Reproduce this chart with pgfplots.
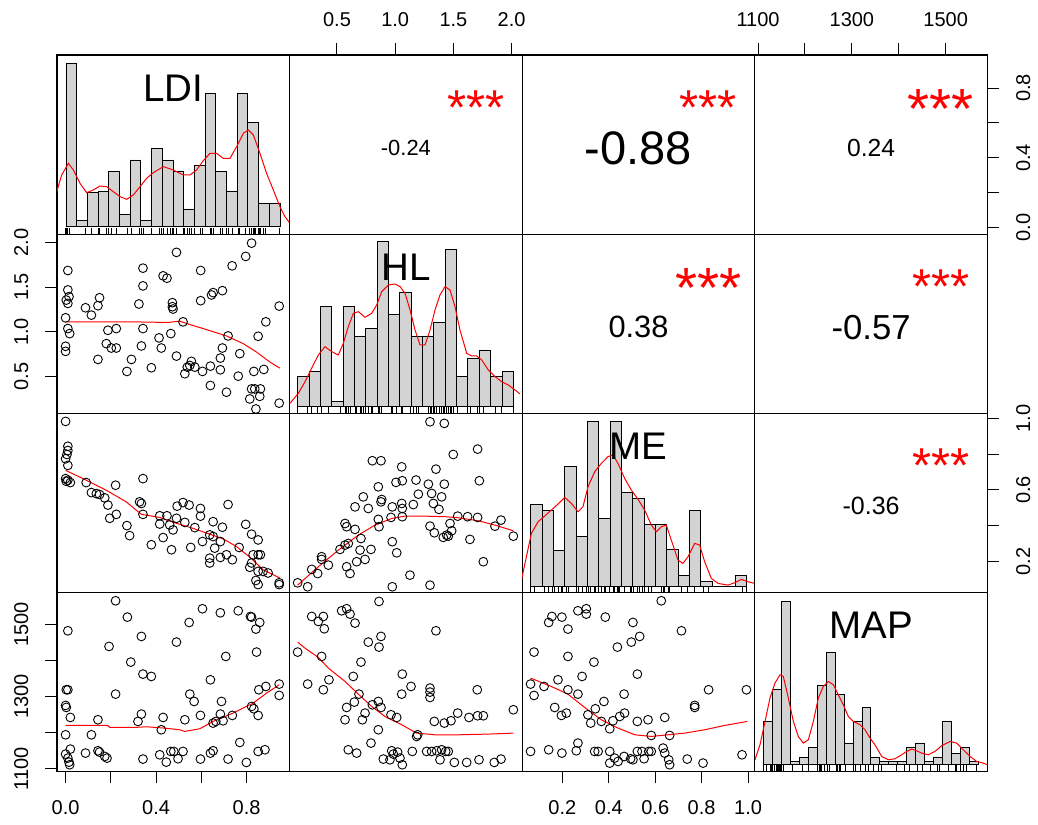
\documentclass[border=0pt]{standalone}
\usepackage{fontspec}
\setmainfont{Liberation Sans}
\usepackage{pgfplots}
\usepackage{pgfplotstable}
\pgfplotsset{compat=1.18}
\definecolor{histgray}{HTML}{D3D3D3}

% ---------- scatter panels ----------
\pgfplotstableread{
ldi hl
0.822 1.990
0.490 1.887
0.796 1.842
0.736 1.737
0.010 1.685
0.342 1.711
0.597 1.685
0.431 1.625
0.448 1.599
0.342 1.513
0.010 1.468
0.693 1.460
0.652 1.438
0.645 1.412
0.015 1.393
0.003 1.355
0.150 1.381
0.010 1.318
0.324 1.311
0.143 1.292
0.088 1.269
0.597 1.348
0.472 1.326
0.472 1.281
0.475 1.255
0.944 1.288
0.000 1.157
0.114 1.187
0.519 1.112
0.885 1.112
0.010 1.037
0.018 0.981
0.187 1.018
0.224 1.037
0.342 1.037
0.465 0.981
0.413 0.933
0.718 0.955
0.851 0.951
0.000 0.839
0.000 0.783
0.180 0.869
0.202 0.820
0.224 0.820
0.335 0.843
0.423 0.820
0.693 0.820
0.143 0.693
0.291 0.693
0.490 0.730
0.684 0.708
0.770 0.757
0.556 0.671
0.549 0.625
0.538 0.607
0.571 0.607
0.271 0.559
0.379 0.600
0.527 0.533
0.605 0.559
0.640 0.618
0.684 0.577
0.763 0.506
0.832 0.559
0.876 0.581
0.640 0.402
0.711 0.327
0.822 0.364
0.836 0.364
0.861 0.364
0.814 0.252
0.858 0.281
0.841 0.140
0.944 0.205
}\tTwoOne

\pgfplotstableread{
ldi me
0.000 0.983
0.010 0.844
0.010 0.820
0.006 0.798
0.000 0.774
0.010 0.737
0.000 0.663
0.010 0.654
0.021 0.641
0.003 0.648
0.091 0.641
0.114 0.585
0.136 0.579
0.150 0.574
0.173 0.555
0.221 0.626
0.342 0.663
0.327 0.533
0.335 0.524
0.187 0.515
0.224 0.463
0.195 0.441
0.271 0.400
0.283 0.344
0.342 0.463
0.416 0.455
0.448 0.455
0.490 0.441
0.416 0.409
0.460 0.404
0.475 0.376
0.493 0.509
0.519 0.529
0.546 0.515
0.596 0.496
0.596 0.453
0.527 0.418
0.571 0.389
0.718 0.518
0.431 0.333
0.379 0.293
0.468 0.265
0.553 0.278
0.605 0.311
0.652 0.422
0.693 0.391
0.637 0.348
0.652 0.339
0.684 0.311
0.659 0.274
0.637 0.218
0.637 0.191
0.684 0.222
0.711 0.237
0.737 0.209
0.767 0.278
0.796 0.407
0.822 0.352
0.851 0.320
0.829 0.237
0.851 0.237
0.861 0.237
0.822 0.191
0.814 0.167
0.851 0.144
0.873 0.144
0.895 0.135
0.841 0.093
0.851 0.070
0.944 0.080
0.944 0.070
}\tThreeOne

\pgfplotstableread{
ldi map
0.221 1565.5
0.273 1520.3
0.010 1482.4
0.335 1466.8
0.192 1439.1
0.490 1451.1
0.605 1543.4
0.684 1532.3
0.763 1537.8
0.817 1522.1
0.822 1520.3
0.858 1505.5
0.546 1505.5
0.841 1487.1
0.844 1423.4
0.708 1411.4
0.288 1395.7
0.342 1362.4
0.379 1356.0
0.640 1346.7
0.003 1319.1
0.010 1319.1
0.221 1307.0
0.549 1307.0
0.568 1286.7
0.689 1286.7
0.000 1275.7
0.003 1270.1
0.021 1242.4
0.143 1236.0
0.335 1251.7
0.320 1231.4
0.431 1242.4
0.527 1236.0
0.596 1248.0
0.684 1251.7
0.737 1248.0
0.822 1272.9
0.832 1266.4
0.851 1248.0
0.854 1319.1
0.885 1328.3
0.944 1334.8
0.944 1303.4
0.423 1208.3
0.652 1226.8
0.664 1231.4
0.696 1233.2
0.000 1194.4
0.114 1194.4
0.000 1140.9
0.010 1129.8
0.015 1118.7
0.018 1111.4
0.021 1154.7
0.088 1143.7
0.143 1150.1
0.150 1146.4
0.173 1134.4
0.183 1129.8
0.342 1127.1
0.416 1139.0
0.445 1118.7
0.465 1148.3
0.478 1148.3
0.497 1128.0
0.519 1148.3
0.596 1127.1
0.640 1143.7
0.652 1150.1
0.718 1127.1
0.770 1173.2
0.799 1117.8
0.851 1148.3
0.881 1152.9
}\tFourOne

\pgfplotstableread{
hl me
1.299 0.981
1.422 0.972
1.708 0.828
1.499 0.798
0.804 0.763
0.878 0.763
1.056 0.729
1.350 0.716
1.723 0.651
1.007 0.642
1.061 0.651
1.179 0.655
1.285 0.632
1.422 0.632
0.855 0.617
0.726 0.561
0.655 0.505
0.769 0.496
0.884 0.546
0.878 0.533
0.975 0.505
1.056 0.524
1.061 0.496
1.156 0.518
1.199 0.576
1.313 0.580
1.399 0.561
1.328 0.524
1.376 0.491
0.855 0.435
0.861 0.394
0.964 0.446
1.061 0.450
0.569 0.412
0.583 0.394
0.655 0.379
0.706 0.328
0.597 0.300
0.569 0.291
0.698 0.263
0.792 0.267
0.741 0.211
0.669 0.198
0.526 0.267
0.368 0.226
0.368 0.211
0.426 0.179
0.283 0.155
0.334 0.132
0.583 0.170
0.612 0.132
0.162 0.080
0.248 0.058
0.975 0.310
1.013 0.248
1.127 0.123
0.975 0.058
1.299 0.067
1.299 0.397
1.336 0.360
1.413 0.334
1.456 0.341
1.485 0.371
1.442 0.347
1.471 0.412
1.537 0.453
1.622 0.450
1.708 0.446
1.857 0.397
1.909 0.431
2.015 0.341
1.642 0.323
1.757 0.198
}\tThreeTwo

\pgfplotstableread{
hl map
0.861 1563.7
0.540 1537.8
0.583 1543.4
0.612 1528.6
0.283 1522.1
0.383 1522.1
0.340 1508.3
0.391 1488.0
0.655 1503.7
1.350 1482.4
0.878 1466.8
0.769 1451.1
0.861 1437.2
0.162 1423.4
0.368 1411.4
0.706 1395.7
1.061 1362.4
0.640 1356.0
0.431 1346.7
0.248 1334.8
0.383 1319.1
1.136 1328.3
1.056 1307.0
1.299 1323.7
1.299 1312.6
1.299 1297.8
1.705 1319.1
0.689 1307.0
0.649 1284.9
0.583 1270.1
0.855 1286.7
0.878 1270.1
0.804 1277.5
0.741 1254.4
0.569 1236.0
0.718 1236.0
0.964 1249.8
1.013 1242.4
2.015 1263.7
1.537 1254.4
1.479 1233.2
1.422 1226.8
1.336 1231.4
1.634 1242.4
1.708 1247.1
1.757 1247.1
0.855 1208.3
1.193 1194.4
1.184 1189.8
0.792 1171.4
0.597 1152.9
0.669 1143.7
0.898 1127.1
0.970 1150.1
0.984 1140.9
1.021 1146.4
1.041 1129.8
1.061 1111.4
0.955 1125.2
1.147 1148.3
1.270 1148.3
1.313 1148.3
1.356 1150.1
1.399 1152.9
1.434 1148.3
1.456 1148.3
1.385 1125.2
1.508 1117.8
1.614 1117.8
1.720 1125.2
1.851 1117.8
1.909 1127.1
}\tFourTwo

\pgfplotstableread{
me map
0.626 1565.5
0.267 1537.8
0.303 1543.4
0.303 1528.6
0.155 1522.1
0.198 1520.3
0.141 1505.5
0.385 1520.3
0.224 1487.1
0.504 1505.5
0.713 1482.4
0.533 1466.8
0.497 1451.1
0.437 1437.2
0.078 1423.4
0.224 1411.4
0.336 1395.7
0.285 1356.0
0.523 1362.4
0.181 1346.7
0.063 1334.8
0.121 1328.3
0.224 1319.1
0.267 1307.0
0.078 1303.4
0.830 1319.1
0.993 1319.1
0.466 1307.0
0.379 1286.7
0.342 1266.4
0.167 1270.1
0.196 1248.0
0.217 1254.4
0.310 1249.8
0.322 1226.8
0.368 1231.4
0.404 1211.0
0.418 1233.2
0.447 1245.2
0.468 1254.4
0.523 1231.4
0.569 1236.0
0.641 1242.4
0.770 1275.7
0.770 1270.1
0.583 1192.6
0.662 1192.6
0.267 1171.4
0.063 1148.3
0.141 1152.9
0.198 1143.7
0.260 1150.1
0.339 1148.3
0.354 1148.3
0.404 1148.3
0.425 1129.8
0.404 1116.0
0.440 1120.6
0.466 1134.4
0.494 1128.0
0.504 1125.2
0.523 1148.3
0.543 1148.3
0.552 1128.0
0.572 1148.3
0.583 1148.3
0.634 1157.5
0.641 1143.7
0.658 1125.2
0.662 1111.4
0.738 1127.1
0.806 1116.0
0.974 1139.0
}\tFourThree

% ---------- smoothing lines ----------
\pgfplotstableread{
0.000 1.112
0.298 1.112
0.453 1.105
0.504 1.120
0.549 1.082
0.608 1.037
0.711 0.955
0.785 0.869
0.844 0.775
0.903 0.663
0.947 0.596
}\sTwoOne
\pgfplotstableread{
0.000 0.709
0.077 0.663
0.180 0.598
0.268 0.533
0.335 0.463
0.416 0.446
0.490 0.413
0.563 0.385
0.637 0.352
0.696 0.326
0.755 0.283
0.814 0.224
0.873 0.153
0.947 0.107
}\sThreeOne
\pgfplotstableread{
0.000 1220.3
0.187 1220.3
0.195 1214.7
0.305 1214.7
0.357 1216.6
0.438 1212.9
0.504 1208.3
0.527 1203.7
0.593 1211.1
0.652 1231.4
0.740 1254.4
0.829 1282.1
0.888 1309.8
0.944 1332.9
}\sFourOne
\pgfplotstableread{
0.162 0.067
0.340 0.170
0.512 0.263
0.683 0.347
0.827 0.403
0.970 0.440
1.084 0.453
1.256 0.453
1.428 0.450
1.542 0.444
1.714 0.427
1.857 0.403
2.015 0.371
}\sThreeTwo
\pgfplotstableread{
0.162 1451.1
0.225 1434.4
0.340 1408.6
0.426 1379.0
0.569 1342.1
0.683 1307.0
0.798 1272.9
0.912 1245.2
1.056 1222.1
1.184 1199.0
1.342 1194.4
1.542 1194.4
1.800 1196.3
2.015 1199.0
}\sFourTwo
\pgfplotstableread{
0.063 1351.4
0.152 1328.3
0.224 1307.0
0.296 1270.1
0.368 1236.0
0.440 1212.9
0.512 1194.4
0.583 1189.8
0.655 1194.4
0.727 1199.0
0.813 1208.3
0.899 1220.3
0.997 1231.4
}\sFourThree

% ---------- histograms (bin centre, bar height) ----------
\pgfplotstableread{
0.5 490
1.5 18
2.5 103
3.5 105
4.5 165
5.5 36
6.5 200
7.5 18
8.5 235
9.5 200
10.5 165
11.5 53
12.5 183
13.5 400
14.5 165
15.5 106
16.5 400
17.5 313
18.5 71
19.5 71
}\hLDI
\pgfplotstableread{
0.5 90
1.5 105
2.5 300
3.5 15
4.5 300
5.5 212
6.5 235
7.5 495
8.5 277
9.5 343
10.5 210
11.5 210
12.5 252
13.5 472
14.5 90
15.5 145
16.5 170
17.5 90
18.5 105
}\hHL
\pgfplotstableread{
0.5 247
1.5 230
2.5 110
3.5 360
4.5 152
5.5 495
6.5 205
7.5 495
8.5 282
9.5 265
10.5 188
11.5 188
12.5 112
13.5 35
14.5 230
15.5 15
16.5 0
17.5 0
18.5 35
}\hME
\pgfplotstableread{
0.5 130
1.5 225
2.5 490
3.5 10
4.5 22
5.5 52
6.5 237
7.5 337
8.5 212
9.5 65
10.5 130
11.5 172
12.5 22
13.5 10
14.5 10
15.5 10
16.5 52
17.5 65
18.5 10
19.5 22
20.5 130
21.5 35
22.5 52
23.5 10
}\hMAP

% ---------- density curves ----------
\pgfplotstableread{
-0.87 105
-0.40 155
0.22 190
0.69 170
1.31 130
1.93 102
2.55 110
3.18 122
3.80 120
4.42 105
5.05 90
5.67 82
6.29 95
6.92 120
7.54 145
8.16 162
9.10 180
10.03 170
10.97 155
11.59 155
12.21 170
12.83 198
13.46 220
14.08 220
14.70 205
15.33 205
15.95 240
16.57 280
17.04 290
17.51 275
18.13 220
18.75 160
19.38 110
20.00 60
20.47 30
20.93 10
}\dLDI
\pgfplotstableread{
-0.68 10
0.06 40
0.65 75
1.23 115
1.82 155
2.41 180
3.00 165
3.58 155
4.02 190
4.46 240
4.90 280
5.35 285
5.93 268
6.52 280
6.96 305
7.40 345
7.99 365
8.58 368
9.02 360
9.46 340
9.90 290
10.34 230
10.78 185
11.22 185
11.66 230
12.10 290
12.54 335
12.98 360
13.42 350
13.86 300
14.30 230
14.89 160
15.33 152
15.77 152
16.21 140
16.80 110
17.39 90
17.97 75
18.56 65
19.15 50
19.59 38
}\dHL
\pgfplotstableread{
-0.82 20
-0.38 90
0.06 160
0.65 195
1.23 212
1.82 230
2.41 248
3.00 268
3.58 250
4.17 225
4.61 240
5.05 300
5.64 345
6.23 370
6.81 390
7.25 395
7.69 370
8.28 325
8.87 290
9.46 262
10.04 230
10.63 185
11.07 165
11.51 180
11.95 185
12.39 140
12.98 80
13.42 70
13.86 90
14.45 130
14.89 125
15.33 75
15.92 25
16.51 10
17.39 5
17.97 12
18.56 22
19.15 15
19.74 10
}\dME
\pgfplotstableread{
-0.93 15
-0.37 60
0.19 130
0.74 200
1.30 245
1.86 270
2.23 265
2.79 200
3.35 130
3.90 85
4.46 65
5.02 75
5.58 130
6.13 200
6.69 235
7.25 250
7.81 240
8.36 210
8.92 180
9.48 145
10.04 130
10.78 120
11.34 105
11.90 80
12.45 60
13.20 25
13.94 15
14.68 18
15.43 30
15.99 40
16.54 47
17.10 42
17.66 35
18.40 30
19.14 40
19.89 57
20.82 70
21.56 65
22.30 45
23.05 25
23.79 10
24.54 5
24.98 0
}\dMAP

\pgfplotsset{
  panel/.style={
    scale only axis, width=232.6pt, height=179.1pt, anchor=south west,
    axis line style={black, line width=1.1pt},
    xtick=\empty, ytick=\empty,
    tick align=outside, major tick length=12pt,
    every tick/.style={black, line width=1pt},
    tick label style={font=\fontsize{20}{22}\selectfont, inner sep=16.5pt},
    clip=true,
  },
  rug/.style={panel, axis lines=none, ymin=0, ymax=179.1},
  pts/.style={only marks, mark=o, mark size=4.4pt, mark options={black, line width=0.9pt}},
  smooth line/.style={red, line width=1pt, no marks},
  bars/.style={ybar, bar width=1, fill=histgray, draw=black, line width=0.9pt},
}
\tikzset{
  varname/.style={font=\fontsize{38.5}{40}\selectfont},
  stars/.style={text=red, inner sep=0pt},
}

\begin{document}
\begin{tikzpicture}
\path[use as bounding box] (0pt,0pt) rectangle (1038pt,824pt);

% ===== row 1 =====
\begin{axis}[panel, at={(57pt,589.9pt)}, xmin=-0.84, xmax=20.90, ymin=-22.3, ymax=515]
  \addplot[bars] table {\hLDI};
  \addplot[smooth line] table {\dLDI};
  \node[varname] at (rel axis cs:0.5,0.815) {LDI};
\end{axis}
\begin{axis}[rug, at={(57pt,589.9pt)}, xmin=-0.038, xmax=0.990]
  \addplot[ycomb, no marks, line width=0.8pt] table[x=ldi, y expr=6] {\tTwoOne};
\end{axis}

\begin{axis}[panel, at={(289.6pt,589.9pt)}, xmin=0.093, xmax=2.091, ymin=0, ymax=1,
  xtick pos=top, xtick={0.5,1,1.5,2}, xticklabels={0.5,1.0,1.5,2.0}]
  \node[font=\fontsize{21.9}{24}\selectfont, yshift=-3.5pt] at (rel axis cs:0.5,0.5) {-0.24};
  \node[stars, font=\fontsize{49}{50}\selectfont, yshift=-17pt] at (rel axis cs:0.8,0.8) {***};
\end{axis}

\begin{axis}[panel, at={(522.2pt,589.9pt)}, xmin=0, xmax=1, ymin=0, ymax=1]
  \node[font=\fontsize{47}{50}\selectfont, yshift=-3.5pt] at (rel axis cs:0.5,0.5) {-0.88};
  \node[stars, font=\fontsize{49}{50}\selectfont, yshift=-17pt] at (rel axis cs:0.8,0.8) {***};
\end{axis}

\begin{axis}[panel, at={(754.8pt,589.9pt)}, xmin=1093, xmax=1589, ymin=-0.038, ymax=0.990,
  xtick pos=top, xtick={1100,1200,1300,1400,1500}, xticklabels={1100,,1300,,1500},
  ytick pos=right, ytick={0,0.2,0.4,0.6,0.8}, yticklabels={0.0,,0.4,,0.8},
  yticklabel style={rotate=90, anchor=north}]
  \node[font=\fontsize{24.7}{26}\selectfont, yshift=-3.5pt] at (rel axis cs:0.5,0.5) {0.24};
  \node[stars, font=\fontsize{56.6}{58}\selectfont, yshift=-18pt] at (rel axis cs:0.8,0.8) {***};
\end{axis}

% ===== row 2 =====
\begin{axis}[panel, at={(57pt,410.8pt)}, xmin=-0.038, xmax=0.990, ymin=0.093, ymax=2.091,
  ytick pos=left, ytick={0.5,1,1.5,2}, yticklabels={0.5,1.0,1.5,2.0},
  yticklabel style={rotate=90, anchor=south}]
  \addplot[pts] table[x=ldi, y=hl] {\tTwoOne};
  \addplot[smooth line] table {\sTwoOne};
\end{axis}

\begin{axis}[panel, at={(289.6pt,410.8pt)}, xmin=-0.71, xmax=19.78, ymin=-19.6, ymax=517.7]
  \addplot[bars] table {\hHL};
  \addplot[smooth line] table {\dHL};
  \node[varname] at (rel axis cs:0.5,0.815) {HL};
\end{axis}
\begin{axis}[rug, at={(289.6pt,410.8pt)}, xmin=0.093, xmax=2.091]
  \addplot[ycomb, no marks, line width=0.8pt] table[x=hl, y expr=6] {\tThreeTwo};
\end{axis}

\begin{axis}[panel, at={(522.2pt,410.8pt)}, xmin=0, xmax=1, ymin=0, ymax=1]
  \node[font=\fontsize{30.8}{32}\selectfont, yshift=-3.5pt] at (rel axis cs:0.5,0.5) {0.38};
  \node[stars, font=\fontsize{56.6}{58}\selectfont, yshift=-18pt] at (rel axis cs:0.8,0.8) {***};
\end{axis}

\begin{axis}[panel, at={(754.8pt,410.8pt)}, xmin=0, xmax=1, ymin=0, ymax=1]
  \node[font=\fontsize{34.7}{36}\selectfont, yshift=-3.5pt] at (rel axis cs:0.5,0.5) {-0.57};
  \node[stars, font=\fontsize{49}{50}\selectfont, yshift=-17pt] at (rel axis cs:0.8,0.8) {***};
\end{axis}

% ===== row 3 =====
\begin{axis}[panel, at={(57pt,231.7pt)}, xmin=-0.038, xmax=0.990, ymin=0.027, ymax=1.029]
  \addplot[pts] table[x=ldi, y=me] {\tThreeOne};
  \addplot[smooth line] table {\sThreeOne};
\end{axis}

\begin{axis}[panel, at={(289.6pt,231.7pt)}, xmin=0.093, xmax=2.091, ymin=0.027, ymax=1.029]
  \addplot[pts] table[x=hl, y=me] {\tThreeTwo};
  \addplot[smooth line] table {\sThreeTwo};
\end{axis}

\begin{axis}[panel, at={(522.2pt,231.7pt)}, xmin=-0.75, xmax=19.75, ymin=-16.6, ymax=520.4]
  \addplot[bars] table {\hME};
  \addplot[smooth line] table {\dME};
  \node[varname] at (rel axis cs:0.5,0.815) {ME};
\end{axis}
\begin{axis}[rug, at={(522.2pt,231.7pt)}, xmin=0.027, xmax=1.029]
  \addplot[ycomb, no marks, line width=0.8pt] table[x=me, y expr=6] {\tFourThree};
\end{axis}

\begin{axis}[panel, at={(754.8pt,231.7pt)}, xmin=0, xmax=1, ymin=0.027, ymax=1.029,
  ytick pos=right, ytick={0.2,0.4,0.6,0.8,1.0}, yticklabels={0.2,,0.6,,1.0},
  yticklabel style={rotate=90, anchor=north}]
  \node[font=\fontsize{25}{27}\selectfont, yshift=-3.5pt] at (rel axis cs:0.5,0.5) {-0.36};
  \node[stars, font=\fontsize{49}{50}\selectfont, yshift=-17pt] at (rel axis cs:0.8,0.8) {***};
\end{axis}

% ===== row 4 =====
\begin{axis}[panel, at={(57pt,52.6pt)}, xmin=-0.038, xmax=0.990, ymin=1093, ymax=1589,
  xtick pos=bottom, xtick={0,0.2,0.4,0.6,0.8}, xticklabels={0.0,,0.4,,0.8},
  ytick pos=left, ytick={1100,1200,1300,1400,1500}, yticklabels={1100,,1300,,1500},
  yticklabel style={rotate=90, anchor=south}]
  \addplot[pts] table[x=ldi, y=map] {\tFourOne};
  \addplot[smooth line] table {\sFourOne};
\end{axis}

\begin{axis}[panel, at={(289.6pt,52.6pt)}, xmin=0.093, xmax=2.091, ymin=1093, ymax=1589]
  \addplot[pts] table[x=hl, y=map] {\tFourTwo};
  \addplot[smooth line] table {\sFourTwo};
\end{axis}

\begin{axis}[panel, at={(522.2pt,52.6pt)}, xmin=0.027, xmax=1.029, ymin=1093, ymax=1589,
  xtick pos=bottom, xtick={0.2,0.4,0.6,0.8,1.0}, xticklabels={0.2,0.4,0.6,0.8,1.0}]
  \addplot[pts] table[x=me, y=map] {\tFourThree};
  \addplot[smooth line] table {\sFourThree};
\end{axis}

\begin{axis}[panel, at={(754.8pt,52.6pt)}, xmin=-0.95, xmax=24.99, ymin=-19.9, ymax=517.4]
  \addplot[bars] table {\hMAP};
  \addplot[smooth line] table {\dMAP};
  \node[varname] at (rel axis cs:0.5,0.815) {MAP};
\end{axis}
\begin{axis}[rug, at={(754.8pt,52.6pt)}, xmin=1093, xmax=1589]
  \addplot[ycomb, no marks, line width=0.8pt] table[x=map, y expr=6] {\tFourOne};
\end{axis}

\end{tikzpicture}
\end{document}
